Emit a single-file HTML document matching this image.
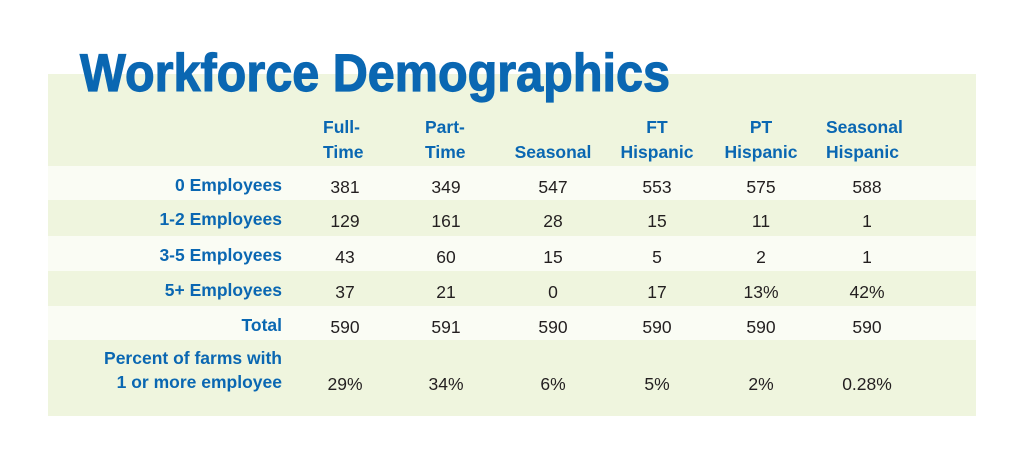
<!DOCTYPE html>
<html><head><meta charset="utf-8"><style>
html,body{margin:0;padding:0;background:#fff;width:1024px;height:473px;overflow:hidden}
svg{display:block}
text{font-family:"Liberation Sans",sans-serif}
.lab{font-weight:bold;fill:#0a67b2;font-size:17.5px}
.val{fill:#231f20;font-size:17.5px}
</style></head><body>
<svg id="chart" width="1024" height="473" viewBox="0 0 1024 473">
<rect x="48" y="74" width="928" height="342" fill="#eff5de"/>
<text x="80" y="91" font-size="53" font-weight="bold" fill="#0a67b2" stroke="#0a67b2" stroke-width="1.2" textLength="590" lengthAdjust="spacingAndGlyphs">Workforce Demographics</text>
<g id="hdr"></g>
<g id="rows"></g>
</svg>
<script>
const columns=[["Full-","Time"],["Part-","Time"],["","Seasonal"],["FT","Hispanic"],["PT","Hispanic"],["Seasonal","Hispanic"]];
const rowLabels=[["0 Employees"],["1-2 Employees"],["3-5 Employees"],["5+ Employees"],["Total"],["Percent of farms with","1 or more employee"]];
const row0=["381","349","547","553","575","588"];
const row1=["129","161","28","15","11","1"];
const row2=["43","60","15","5","2","1"];
const row3=["37","21","0","17","13%","42%"];
const row4=["590","591","590","590","590","590"];
const row5=["29%","34%","6%","5%","2%","0.28%"];
const values=[row0,row1,row2,row3,row4,row5];

const NS="http://www.w3.org/2000/svg";
const colX=[345,446,553,657,761,867];
const colAnchor=["left","left","mid","mid","mid","left"];
const colLeft=[323,425,0,0,0,826];
const rowTop=[166,200,236,271,306,340];
const rowH=[34,36,35,35,34,76];
const hdr=document.getElementById('hdr'), rows=document.getElementById('rows');
function t(parent,x,y,str,cls,anchor){const e=document.createElementNS(NS,'text');e.setAttribute('x',x);e.setAttribute('y',y);e.setAttribute('class',cls);e.setAttribute('text-anchor',anchor);e.textContent=str;parent.appendChild(e);return e;}
columns.forEach((c,i)=>{
  const g=document.createElementNS(NS,'g');
  
  
  const left=colAnchor[i]==="left";
  const x=left?colLeft[i]:colX[i], a=left?"start":"middle";
  if(c[0]) t(g,x,133,c[0],'lab',a);
  t(g,x,158,c[1],'lab',a);
  hdr.appendChild(g);
});
rowLabels.forEach((lab,r)=>{
  const g=document.createElementNS(NS,'g');
  
  
  if(r%2===0){const rc=document.createElementNS(NS,'rect');rc.setAttribute('x',48);rc.setAttribute('y',rowTop[r]);rc.setAttribute('width',928);rc.setAttribute('height',rowH[r]);rc.setAttribute('fill','#fafcf4');g.appendChild(rc);}
  if(lab.length===1){
    const e=t(g,282,rowTop[r]+25,lab[0],'lab','end');
    
    
  } else {
    const e1=t(g,282,rowTop[r]+24,lab[0],'lab','end');
    
    
    const e2=t(g,282,rowTop[r]+48,lab[1],'lab','end');
    
    
  }
  const vy=lab.length===1?rowTop[r]+27:rowTop[r]+50;
  values[r].forEach((v,i)=>{
    const e=t(g,colX[i],vy,v,'val','middle');
    
    
  });
  rows.appendChild(g);
});
</script>
</body></html>
